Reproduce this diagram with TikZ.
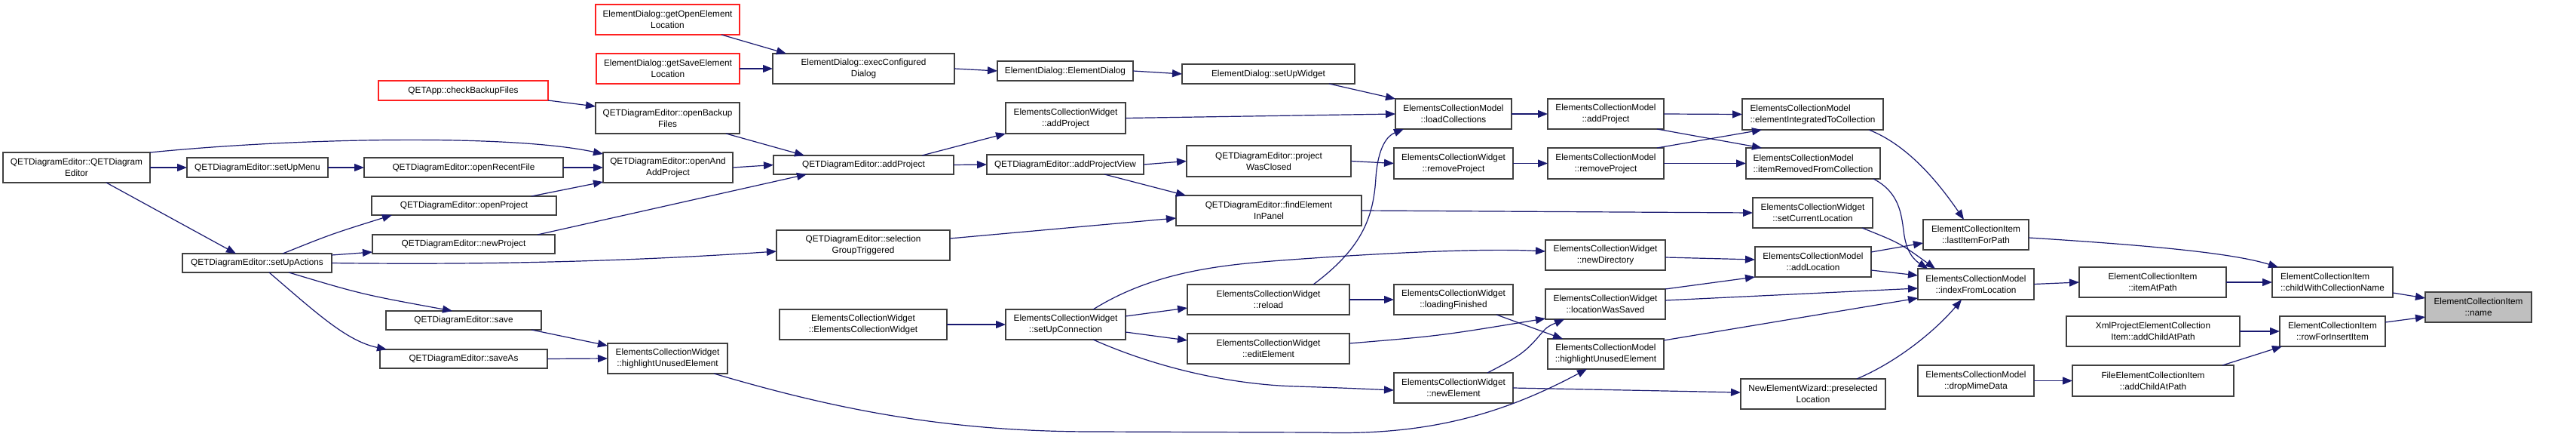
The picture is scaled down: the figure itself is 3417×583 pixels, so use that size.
\documentclass[tikz,border=0pt]{standalone}
\usepackage{fontspec}
\setmainfont{Liberation Sans}
\usetikzlibrary{arrows.meta}
\definecolor{edgeblue}{HTML}{191970}
\definecolor{boxgray}{HTML}{404040}
\definecolor{boxred}{HTML}{FF2020}
\definecolor{namefill}{HTML}{BFBFBF}
\tikzset{
 box/.style={draw=boxgray, line width=1.3pt, fill=white, inner sep=0pt, outer sep=0pt, align=center, font=\fontsize{11.8}{15}\selectfont, text=black},
 redbox/.style={draw=boxred},
 leftbox/.style={align=left},
 edge/.style={draw=edgeblue, line width=1.2pt, -{Triangle[length=13pt,width=10pt]}},
}
\newcommand\bx[7][]{\node[box,#1,minimum width={(#5-#3)*1pt},minimum height={(#6-#4)*1pt}] (#2) at ({(#3+#5)/2},{(#4+#6)/2}) {#7};}
\begin{document}
\begin{tikzpicture}[x=1pt,y=-1pt]
\useasboundingbox[fill=white] (0,0) rectangle (3417,583);
\bx{ctor}{4}{202}{199}{242}{QETDiagramEditor::QETDiagram\\Editor}
\bx{setUpMenu}{248}{209}{435}{235}{QETDiagramEditor::setUpMenu}
\bx{openRecent}{483}{209}{747}{235}{QETDiagramEditor::openRecentFile}
\bx{openProject}{493}{260}{738}{285}{QETDiagramEditor::openProject}
\bx[redbox]{checkBackup}{502}{107}{727}{133}{QETApp::checkBackupFiles}
\bx{setUpActions}{242}{336}{440}{361}{QETDiagramEditor::setUpActions}
\bx{newProject}{494}{311}{736}{336}{QETDiagramEditor::newProject}
\bx{save}{512}{412}{718}{437}{QETDiagramEditor::save}
\bx{saveAs}{504}{463}{726}{488}{QETDiagramEditor::saveAs}
\bx[redbox]{getOpen}{790}{6}{981}{46}{ElementDialog::getOpenElement\\Location}
\bx[redbox]{getSave}{791}{71}{981}{111}{ElementDialog::getSaveElement\\Location}
\bx{exec}{1025}{71}{1266}{111}{ElementDialog::execConfigured\\Dialog}
\bx{openBackup}{790}{136}{981}{177}{QETDiagramEditor::openBackup\\Files}
\bx{openAndAdd}{800}{202}{972}{242}{QETDiagramEditor::openAnd\\AddProject}
\bx{qAddProject}{1026}{206}{1265}{231}{QETDiagramEditor::addProject}
\bx{ecwHighlight}{806}{455}{965}{495}{ElementsCollectionWidget\\::highlightUnusedElement}
\bx{selGT}{1030}{305}{1260}{345}{QETDiagramEditor::selection\\GroupTriggered}
\bx{ecwCtor}{1034}{410}{1256}{450}{ElementsCollectionWidget\\::ElementsCollectionWidget}
\bx{elemDialog}{1323}{81}{1503}{107}{ElementDialog::ElementDialog}
\bx{setUpWidget}{1568}{85}{1797}{111}{ElementDialog::setUpWidget}
\bx{ecwAddProject}{1334}{136}{1493}{177}{ElementsCollectionWidget\\::addProject}
\bx{addProjectView}{1309}{205}{1517}{231}{QETDiagramEditor::addProjectView}
\bx{projectWasClosed}{1574}{193}{1792}{234}{QETDiagramEditor::project\\WasClosed}
\bx{findElement}{1560}{259}{1806}{299}{QETDiagramEditor::findElement\\InPanel}
\bx{setUpConnection}{1334}{410}{1493}{450}{ElementsCollectionWidget\\::setUpConnection}
\bx{reload}{1575}{377}{1790}{417}{ElementsCollectionWidget\\::reload}
\bx{editElement}{1575}{442}{1790}{482}{ElementsCollectionWidget\\::editElement}
\bx{loadCollections}{1851}{131}{2005}{171}{ElementsCollectionModel\\::loadCollections}
\bx{ecwRemoveProject}{1849}{196}{2007}{237}{ElementsCollectionWidget\\::removeProject}
\bx{ecmAddProject}{2053}{131}{2207}{171}{ElementsCollectionModel\\::addProject}
\bx{ecmRemoveProject}{2053}{196}{2207}{237}{ElementsCollectionModel\\::removeProject}
\bx{newDirectory}{2050}{318}{2209}{358}{ElementsCollectionWidget\\::newDirectory}
\bx{loadingFinished}{1849}{377}{2007}{417}{ElementsCollectionWidget\\::loadingFinished}
\bx{locationWasSaved}{2050}{383}{2209}{423}{ElementsCollectionWidget\\::locationWasSaved}
\bx{ecmHighlight}{2053}{449}{2207}{489}{ElementsCollectionModel\\::highlightUnusedElement}
\bx{newElement}{1849}{494}{2007}{534}{ElementsCollectionWidget\\::newElement}
\bx[leftbox]{elementIntegrated}{2311}{131}{2498}{172}{ElementsCollectionModel\\::elementIntegratedToCollection}
\bx[leftbox]{itemRemoved}{2316}{196}{2494}{237}{ElementsCollectionModel\\::itemRemovedFromCollection}
\bx{setCurrentLocation}{2325}{262}{2484}{302}{ElementsCollectionWidget\\::setCurrentLocation}
\bx{lastItemForPath}{2551}{291}{2691}{331}{ElementCollectionItem\\::lastItemForPath}
\bx{addLocation}{2328}{327}{2482}{367}{ElementsCollectionModel\\::addLocation}
\bx{indexFromLocation}{2544}{356}{2698}{397}{ElementsCollectionModel\\::indexFromLocation}
\bx{preselected}{2309}{502}{2501}{542}{NewElementWizard::preselected\\Location}
\bx{dropMime}{2544}{484}{2698}{525}{ElementsCollectionModel\\::dropMimeData}
\bx{itemAtPath}{2758}{354}{2953}{394}{ElementCollectionItem\\::itemAtPath}
\bx{xmlAdd}{2741}{419}{2971}{459}{XmlProjectElementCollection\\Item::addChildAtPath}
\bx{fileAdd}{2749}{484}{2963}{525}{FileElementCollectionItem\\::addChildAtPath}
\bx[leftbox]{child}{3014}{354}{3174}{394}{ElementCollectionItem\\::childWithCollectionName}
\bx{rowForInsert}{3024}{419}{3164}{459}{ElementCollectionItem\\::rowForInsertItem}
\bx[fill=namefill]{name}{3217}{387}{3358}{427}{ElementCollectionItem\\::name}

\draw[edge] (ctor.east) -- (setUpMenu.west);
\draw[edge] ([xshift=137pt]ctor.south west) -- ([xshift=71pt]setUpActions.north west);
\draw[edge] (ctor.north east) .. controls (400,182) and (680,178) .. ([yshift=-2pt]openAndAdd.north west);
\draw[edge] (setUpMenu.east) -- (openRecent.west);
\draw[edge] (openRecent.east) -- (openAndAdd.west);
\draw[edge] ([xshift=212pt]openProject.north west) -- ([yshift=1pt]openAndAdd.south west);
\draw[edge] ([xshift=133pt]setUpActions.north west) .. controls (440,310) .. ([xshift=27pt]openProject.south west);
\draw[edge] ([yshift=-2pt]setUpActions.north east) -- ([yshift=2pt]newProject.south west);
\draw[edge] (setUpActions.east) .. controls (700,352) and (900,342) .. ([yshift=12pt]selGT.south west);
\draw[edge] ([xshift=-57pt]setUpActions.south east) .. controls (480,390) .. ([xshift=88pt]save.north west);
\draw[edge] ([xshift=115pt]setUpActions.south west) .. controls (420,415) and (460,452) .. ([xshift=9pt]saveAs.north west);
\draw[edge] ([xshift=-13pt]save.south east) -- ([yshift=-3pt]ecwHighlight.north west);
\draw[edge] (saveAs.east) -- (ecwHighlight.west);
\draw[edge] ([xshift=219pt]newProject.north west) -- ([xshift=44pt]qAddProject.south west);
\draw[edge] (checkBackup.south east) -- ([yshift=-5pt]openBackup.north west);
\draw[edge] ([xshift=-18pt]openBackup.south east) -- ([xshift=41pt]qAddProject.north west);
\draw[edge] (openAndAdd.east) -- (qAddProject.west);
\draw[edge] ([xshift=-24pt]getOpen.south east) -- ([xshift=18pt]exec.north west);
\draw[edge] (getSave.east) -- (exec.west);
\draw[edge] (exec.east) -- (elemDialog.west);
\draw[edge] (elemDialog.east) -- (setUpWidget.west);
\draw[edge] ([xshift=-34pt]setUpWidget.south east) -- (loadCollections.north west);
\draw[edge] ([xshift=-42pt]qAddProject.north east) -- (ecwAddProject.south west);
\draw[edge] (qAddProject.east) -- (addProjectView.west);
\draw[edge] (ecwAddProject.east) -- (loadCollections.west);
\draw[edge] (addProjectView.east) -- (projectWasClosed.west);
\draw[edge] ([xshift=-52pt]addProjectView.south east) -- ([xshift=13pt]findElement.north west);
\draw[edge] ([yshift=-11pt]selGT.north east) -- ([yshift=10pt]findElement.south west);
\draw[edge] (projectWasClosed.east) -- (ecwRemoveProject.west);
\draw[edge] ([xshift=-48pt]reload.north east) .. controls (1805,330) and (1822,290) .. (1825,235) .. controls (1828,195) and (1840,180) .. ([xshift=11pt]loadCollections.south west);
\draw[edge] (findElement.east) -- (setCurrentLocation.west);
\draw[edge] (loadCollections.east) -- (ecmAddProject.west);
\draw[edge] (ecwRemoveProject.east) -- (ecmRemoveProject.west);
\draw[edge] (ecmAddProject.east) -- (elementIntegrated.west);
\draw[edge] ([xshift=-9pt]ecmAddProject.south east) -- ([xshift=21pt]itemRemoved.north west);
\draw[edge] ([xshift=-9pt]ecmRemoveProject.north east) -- ([xshift=26pt]elementIntegrated.south west);
\draw[edge] (ecmRemoveProject.east) -- (itemRemoved.west);
\draw[edge] ([xshift=-19pt]elementIntegrated.south east) .. controls (2530,192) and (2570,240) .. ([xshift=54pt]lastItemForPath.north west);
\draw[edge] ([xshift=-9pt]itemRemoved.south east) .. controls (2520,255) and (2522,285) .. (2525,305) .. controls (2528,335) and (2540,345) .. ([xshift=13pt]indexFromLocation.north west);
\draw[edge] ([xshift=-14pt]setCurrentLocation.south east) .. controls (2520,322) .. ([xshift=23pt]indexFromLocation.north west);
\draw[edge] (ecwCtor.east) -- (setUpConnection.west);
\draw[edge] ([yshift=-9pt]setUpConnection.north east) -- ([yshift=9pt]reload.south west);
\draw[edge] ([yshift=10pt]setUpConnection.south east) -- ([yshift=-9pt]editElement.north west);
\draw[edge] ([xshift=-43pt]setUpConnection.north east) .. controls (1530,360) and (1620,351) .. (1700,345) .. controls (1780,339) and (1950,328) .. ([yshift=-15pt]newDirectory.north west);
\draw[edge] ([xshift=-43pt]setUpConnection.south east) .. controls (1540,490) and (1640,510) .. (1720,512) .. controls (1780,514) .. ([yshift=-3pt]newElement.west);
\draw[edge] (reload.east) -- (loadingFinished.west);
\draw[edge] ([yshift=-13pt]editElement.north east) .. controls (1910,445) .. ([yshift=1pt]locationWasSaved.south west);
\draw[edge] ([xshift=-22pt]loadingFinished.south east) -- ([xshift=20pt]ecmHighlight.north west);
\draw[edge] ([xshift=-34pt]newElement.north east) .. controls (2010,475) and (2022,468) .. (2040,447) .. controls (2052,433) .. ([xshift=25pt]locationWasSaved.south west);
\draw[edge] (newElement.east) -- ([yshift=2pt]preselected.west);
\draw[edge] ([xshift=-18pt]ecwHighlight.south east) .. controls (1100,540) and (1250,572) .. (1450,572) -- (1750,573) .. controls (1900,578) and (2000,545) .. ([xshift=52pt]ecmHighlight.south west);
\draw[edge] ([yshift=-3pt]newDirectory.east) -- ([yshift=3pt]addLocation.west);
\draw[edge] (locationWasSaved.north east) -- (addLocation.south west);
\draw[edge] ([yshift=-15pt]locationWasSaved.north east) -- ([yshift=-26pt]indexFromLocation.north west);
\draw[edge] ([yshift=-2pt]ecmHighlight.north east) -- ([yshift=2pt]indexFromLocation.south west);
\draw[edge] ([yshift=-7pt]addLocation.north east) -- ([yshift=9pt]lastItemForPath.south west);
\draw[edge] ([yshift=9pt]addLocation.south east) -- ([yshift=-9pt]indexFromLocation.north west);
\draw[edge] ([xshift=-38pt]preselected.north east) .. controls (2520,478) and (2570,435) .. ([xshift=58pt]indexFromLocation.south west);
\draw[edge] (indexFromLocation.east) -- (itemAtPath.west);
\draw[edge] (itemAtPath.east) -- (child.west);
\draw[edge] ([yshift=-24pt]lastItemForPath.north east) .. controls (2850,325) and (2960,335) .. ([xshift=8pt]child.north west);
\draw[edge] (dropMime.east) -- (fileAdd.west);
\draw[edge] (xmlAdd.east) -- (rowForInsert.west);
\draw[edge] ([xshift=-15pt]fileAdd.north east) -- ([xshift=3pt]rowForInsert.south west);
\draw[edge] ([yshift=-34pt]child.north east) -- ([yshift=-8pt]name.north west);
\draw[edge] ([yshift=-8pt]rowForInsert.north east) -- ([yshift=7pt]name.south west);
\end{tikzpicture}
\end{document}
